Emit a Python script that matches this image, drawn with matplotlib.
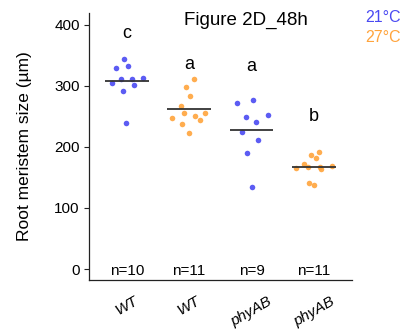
import matplotlib
matplotlib.use("Agg")
import matplotlib.pyplot as plt
import numpy as np

plt.rcParams['font.family'] = ['Liberation Sans', 'DejaVu Sans']

# Groups (genotype, temperature)
labels = ["WT", "WT", "phyAB", "phyAB"]
temps = ["21°C", "27°C", "21°C", "27°C"]
letters = ["c", "a", "a", "b"]
letter_y = [386, 334, 332, 249]

wt_21 = [343.7, 328.5, 331.7, 311.5, 311.0, 312.6, 303.9, 301.7, 290.8, 239.5]
wt_21_jit = [-0.04, -0.18, 0.02, -0.10, 0.09, 0.26, -0.23, 0.12, -0.06, -0.01]

wt_27 = [311.0, 298.4, 283.1, 267.3, 255.8, 246.6, 250.9, 255.8, 244.4, 237.8, 223.1]
wt_27_jit = [0.07, -0.05, 0.01, -0.13, -0.09, -0.28, 0.10, 0.26, 0.17, -0.12, 0.0]

phy_21 = [272.2, 276.6, 249.3, 251.5, 240.6, 223.7, 211.6, 189.9, 134.2]
phy_21_jit = [-0.23, 0.03, -0.09, 0.26, 0.07, -0.16, 0.10, -0.07, 0.0]

phy_27 = [186.6, 191.0, 182.2, 171.3, 165.8, 167.4, 163.2, 168.6, 166.6, 140.3, 138.0]
phy_27_jit = [-0.04, 0.08, 0.03, -0.16, -0.29, -0.09, 0.11, 0.29, 0.10, -0.08, 0.0]

groups = [wt_21, wt_27, phy_21, phy_27]
jitters = [wt_21_jit, wt_27_jit, phy_21_jit, phy_27_jit]

colors = {"21°C": "#4a4af2", "27°C": "#ffa43c"}

fig = plt.figure(figsize=(4.06, 3.33), dpi=100)
ax = fig.add_axes([0.2185, 0.159, 0.6485, 0.802])

for i, (vals, jit, t) in enumerate(zip(groups, jitters, temps)):
    pos = i + 1
    xs = pos + np.array(jit)
    ax.scatter(xs, vals, s=16, color=colors[t], alpha=0.9, linewidths=0, zorder=3)
    m = np.mean(vals)
    ax.hlines(m, pos - 0.35, pos + 0.35, color="#333333", linewidth=1.3, zorder=4)
    ax.text(pos, letter_y[i], letters[i], ha="center", va="center", fontsize=13)
    ax.text(pos, -3, f"n={len(vals)}", ha="center", va="center", fontsize=11)

ax.set_xlim(0.39, 4.61)
ax.set_ylim(-18, 419)
ax.set_yticks([0, 100, 200, 300, 400])
ax.set_xticks([1, 2, 3, 4])
ax.set_xticklabels(labels, rotation=30, ha="center", fontstyle="italic", fontsize=11)
ax.tick_params(axis="x", length=0, pad=10)
ax.tick_params(axis="y", length=3.5, width=0.8, labelsize=11, pad=3, color="#222222")
for s in ["top", "right"]:
    ax.spines[s].set_visible(False)
for s in ["left", "bottom"]:
    ax.spines[s].set_linewidth(0.9)
    ax.spines[s].set_color("#222222")

ax.set_ylabel("Root meristem size (µm)", fontsize=12.5)
ax.yaxis.set_label_coords(-0.215, 0.5)

fig.text(245.5 / 406, 1 - 20 / 333, "Figure 2D_48h", ha="center", va="center", fontsize=13.5)
fig.text(383 / 406, 1 - 17 / 333, "21°C", ha="center", va="center", fontsize=11.5, color=colors["21°C"])
fig.text(383 / 406, 1 - 38 / 333, "27°C", ha="center", va="center", fontsize=11.5, color=colors["27°C"])

fig.savefig("out.png", dpi=100)
